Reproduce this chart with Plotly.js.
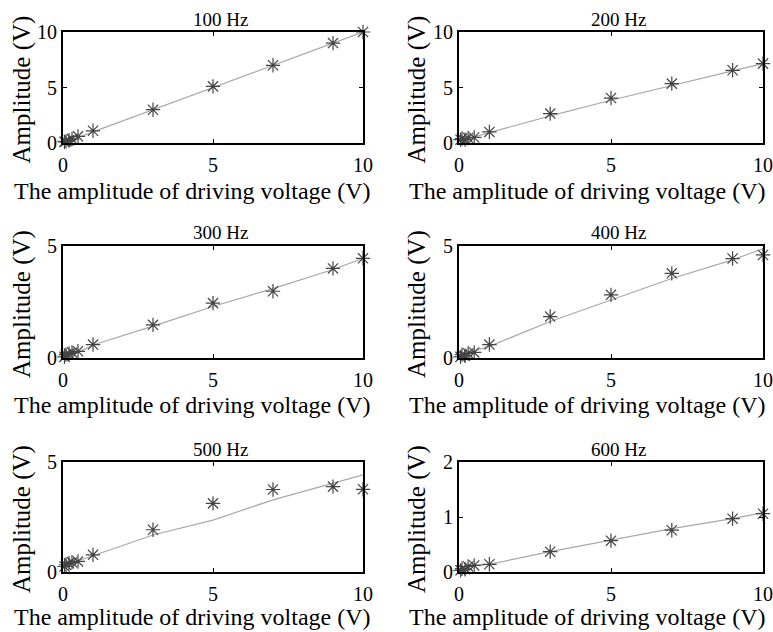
<!DOCTYPE html>
<html><head><meta charset="utf-8">
<script src="https://cdn.plot.ly/plotly-3.0.1.min.js"></script>
<style>html,body{margin:0;padding:0;background:#fff}#chart{width:773px;height:632px}</style>
</head><body><div id="chart"></div>
<script>
// Driving voltage amplitudes (V)
const drive = [0.05, 0.1, 0.2, 0.3, 0.5, 1, 3, 5, 7, 9, 10];
const panelTitles = ["100 Hz", "200 Hz", "300 Hz", "400 Hz", "500 Hz", "600 Hz"];
// Measured amplitudes (asterisks)
const meas100 = [0.1, 0.15, 0.25, 0.35, 0.6, 1.1, 3.0, 5.1, 7.0, 9.0, 10.0];
const meas200 = [0.3, 0.4, 0.3, 0.45, 0.5, 1.0, 2.65, 4.05, 5.35, 6.55, 7.15];
const meas300 = [0.05, 0.15, 0.2, 0.25, 0.3, 0.6, 1.48, 2.45, 2.98, 4.0, 4.45];
const meas400 = [0.05, 0.15, 0.1, 0.2, 0.25, 0.6, 1.85, 2.82, 3.78, 4.44, 4.6];
const meas500 = [0.25, 0.33, 0.4, 0.44, 0.48, 0.78, 1.92, 3.12, 3.75, 3.88, 3.76];
const meas600 = [0.03, 0.06, 0.05, 0.1, 0.12, 0.14, 0.37, 0.57, 0.76, 0.97, 1.06];
// Model amplitudes (gray line)
const model100 = [0.08, 0.12, 0.2, 0.3, 0.5, 1.0, 3.0, 5.0, 7.0, 9.0, 10.0];
const model200 = [0.25, 0.3, 0.35, 0.4, 0.55, 0.95, 2.45, 3.85, 5.2, 6.5, 7.15];
const model300 = [0.08, 0.1, 0.13, 0.17, 0.25, 0.58, 1.42, 2.3, 3.1, 3.95, 4.45];
const model400 = [0.15, 0.17, 0.2, 0.24, 0.3, 0.52, 1.63, 2.6, 3.55, 4.38, 4.88];
const model500 = [0.38, 0.4, 0.43, 0.46, 0.52, 0.74, 1.68, 2.36, 3.28, 4.02, 4.42];
const model600 = [0.08, 0.09, 0.1, 0.11, 0.12, 0.14, 0.37, 0.58, 0.79, 0.97, 1.08];
const xTicks = [0, 5, 10];
const yTicks = [[0,5,10],[0,5,10],[0,5],[0,5],[0,5],[0,1,2]];
const yRanges = [[0,10],[0,10],[0,5],[0,5],[0,5],[0,2]];
const xLabel = "The amplitude of driving voltage (V)";
const yLabel = "Amplitude (V)";

const meas = [meas100, meas200, meas300, meas400, meas500, meas600];
const model = [model100, model200, model300, model400, model500, model600];

const W = 773, H = 632;
const colsPx = [[63, 363], [459, 763]];
const rowsPx = [[32, 143], [246, 358], [462, 572]];
const xTitleCx = [192, 587];          // x-title centres (px)
const xTitleCy = [191, 405, 617];     // x-title centres (px)
const yTitleCx = [22, 417];
const font = "Liberation Serif";

const data = [];
const layout = {
  width: W, height: H, margin: {l:0, r:0, t:0, b:0},
  paper_bgcolor: "#fff", plot_bgcolor: "#fff", showlegend: false,
  font: {family: font, size: 20, color: "#000"},
  annotations: []
};
const px = v => v / W, py = v => 1 - v / H;
for (let i = 0; i < 6; i++) {
  const r = Math.floor(i / 2), c = i % 2;
  const n = i + 1;
  const xa = n === 1 ? "x" : "x" + n, ya = n === 1 ? "y" : "y" + n;
  const xk = n === 1 ? "xaxis" : "xaxis" + n, yk = n === 1 ? "yaxis" : "yaxis" + n;
  data.push({x: drive, y: model[i], xaxis: xa, yaxis: ya, mode: "lines", type: "scatter",
             line: {color: "#a8a8a8", width: 1.2}, hoverinfo: "skip"});
  data.push({x: drive, y: meas[i], xaxis: xa, yaxis: ya, mode: "markers", type: "scatter",
             marker: {symbol: "asterisk-open", size: 12, color: "#444", line: {color: "#444", width: 1.2}},
             cliponaxis: false});
  const common = {showline: true, linecolor: "#000", linewidth: 2, mirror: "ticks",
                  ticks: "inside", ticklen: 4, tickwidth: 1, tickcolor: "#000",
                  showgrid: false, zeroline: false, fixedrange: true,
                  tickfont: {family: font, size: 20, color: "#000"}};
  layout[xk] = Object.assign({}, common, {
    domain: [px(colsPx[c][0]), px(colsPx[c][1])], anchor: ya,
    range: [0, 10], tickvals: xTicks, ticktext: xTicks.map(String), ticklabelstandoff: 3
  });
  layout[yk] = Object.assign({}, common, {
    domain: [py(rowsPx[r][1]), py(rowsPx[r][0])], anchor: xa,
    range: yRanges[i], tickvals: yTicks[i], ticktext: yTicks[i].map(String)
  });
  // panel title
  layout.annotations.push({
    text: panelTitles[i], xref: "paper", yref: "paper", showarrow: false,
    x: px((colsPx[c][0] + colsPx[c][1]) / 2 + 7), y: py(rowsPx[r][0] - 13),
    xanchor: "center", yanchor: "middle",
    font: {family: font, size: 19, color: "#000"}
  });
  // x-axis title
  layout.annotations.push({
    text: xLabel, xref: "paper", yref: "paper", showarrow: false,
    x: px(xTitleCx[c]), y: py(xTitleCy[r]), xanchor: "center", yanchor: "middle",
    font: {family: font, size: 24, color: "#000"}
  });
  // y-axis title
  layout.annotations.push({
    text: yLabel, xref: "paper", yref: "paper", showarrow: false, textangle: -90,
    x: px(yTitleCx[c]), y: py((rowsPx[r][0] + rowsPx[r][1]) / 2 + 2), xanchor: "center", yanchor: "middle",
    font: {family: font, size: 25, color: "#000"}
  });
}
Plotly.newPlot("chart", data, layout, {displayModeBar: false, staticPlot: true});
</script></body></html>
